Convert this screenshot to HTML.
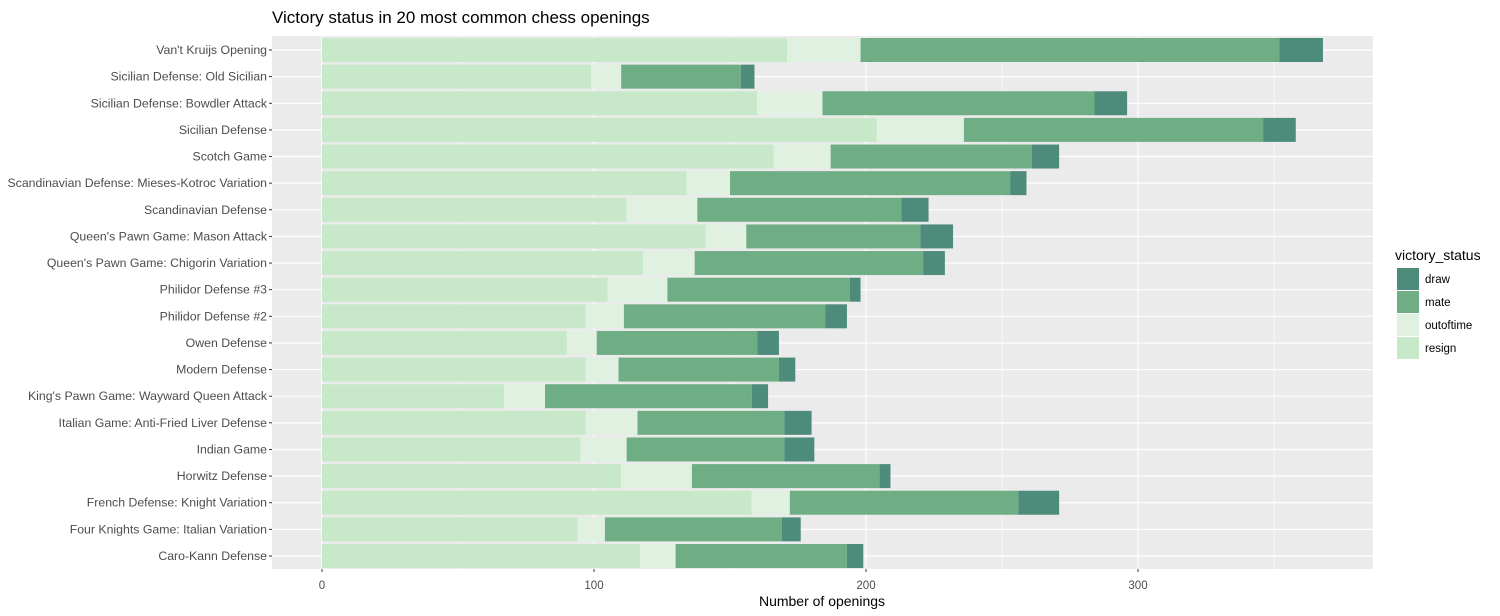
<!DOCTYPE html>
<html><head><meta charset="utf-8">
<style>
html,body{margin:0;padding:0;background:#fff;}
svg{display:block;font-family:"Liberation Sans",Arial,sans-serif;}
</style></head>
<body>
<svg id="chart" width="1500" height="616" viewBox="0 0 1500 616">
<text x="272" y="23" font-size="17" fill="#000">Victory status in 20 most common chess openings</text>
<rect x="272" y="36" width="1101" height="533" fill="#ebebeb"/>
<g id="grid"></g>
<g id="bars"></g>
<g id="yaxis"></g>
<g id="xaxis"></g>
<text x="822" y="606" font-size="14" text-anchor="middle" fill="#000">Number of openings</text>
<g id="legend">
<text x="1395" y="260" font-size="14" fill="#000">victory_status</text>
</g>
</svg>
<script>
const categories=["Van't Kruijs Opening","Sicilian Defense: Old Sicilian","Sicilian Defense: Bowdler Attack","Sicilian Defense","Scotch Game","Scandinavian Defense: Mieses-Kotroc Variation","Scandinavian Defense","Queen's Pawn Game: Mason Attack","Queen's Pawn Game: Chigorin Variation","Philidor Defense #3","Philidor Defense #2","Owen Defense","Modern Defense","King's Pawn Game: Wayward Queen Attack","Italian Game: Anti-Fried Liver Defense","Indian Game","Horwitz Defense","French Defense: Knight Variation","Four Knights Game: Italian Variation","Caro-Kann Defense"];
const resign=[171,99,160,204,166,134,112,141,118,105,97,90,97,67,97,95,110,158,94,117];
const outoftime=[27,11,24,32,21,16,26,15,19,22,14,11,12,15,19,17,26,14,10,13];
const mate=[154,44,100,110,74,103,75,64,84,67,74,59,59,76,54,58,69,84,65,63];
const draw=[16,5,12,12,10,6,10,12,8,4,8,8,6,6,10,11,4,15,7,6];
const xTicks=[0,100,200,300];
const xMinor=[50,150,250,350];
const seriesNames=["draw","mate","outoftime","resign"];
const seriesColors={resign:"#c7e9c9",outoftime:"#e0f1e2",mate:"#6fae85",draw:"#4d8c7a"};
const NS="http://www.w3.org/2000/svg";
const x=v=>322+v*2.72;
const y=i=>50+i*(506/19);
const bw=24;
function mk(tag,attrs,parent){const e=document.createElementNS(NS,tag);for(const k in attrs)e.setAttribute(k,attrs[k]);parent.appendChild(e);return e;}
const grid=document.getElementById('grid');
xMinor.forEach(v=>{const l=mk('line',{x1:x(v),x2:x(v),y1:36,y2:569,stroke:'#fff','stroke-width':0.6},grid);

});
xTicks.forEach(v=>{const l=mk('line',{x1:x(v),x2:x(v),y1:36,y2:569,stroke:'#fff','stroke-width':1.2},grid);

});
categories.forEach((c,i)=>{const l=mk('line',{x1:272,x2:1373,y1:y(i),y2:y(i),stroke:'#fff','stroke-width':1.2},grid);

});
const bars=document.getElementById('bars');
const order=[["resign",resign],["outoftime",outoftime],["mate",mate],["draw",draw]];
categories.forEach((c,i)=>{let acc=0;order.forEach(([n,arr])=>{const v=arr[i];
const r=mk('rect',{x:x(acc),y:y(i)-bw/2,width:v*2.72,height:bw,fill:seriesColors[n]},bars);


acc+=v;});});
const ya=document.getElementById('yaxis');
categories.forEach((c,i)=>{const t=mk('text',{x:267,y:y(i)+4,'font-size':12.3,'text-anchor':'end',fill:'#4d4d4d'},ya);t.textContent=c;


const tk=mk('line',{x1:269,x2:272,y1:y(i),y2:y(i),stroke:'#333'},ya);

});
const xa=document.getElementById('xaxis');
xTicks.forEach(v=>{const t=mk('text',{x:x(v),y:589,'font-size':11.5,'text-anchor':'middle',fill:'#4d4d4d'},xa);t.textContent=v;


const tk=mk('line',{x1:x(v),x2:x(v),y1:569,y2:572,stroke:'#333'},xa);

});
const lg=document.getElementById('legend');
seriesNames.forEach((n,i)=>{const yy=268+i*23;
const r=mk('rect',{x:1397,y:yy,width:22,height:22,fill:seriesColors[n]},lg);


const t=mk('text',{x:1425,y:yy+15,'font-size':11.5,fill:'#000'},lg);t.textContent=n;

});
</script>
</body></html>
